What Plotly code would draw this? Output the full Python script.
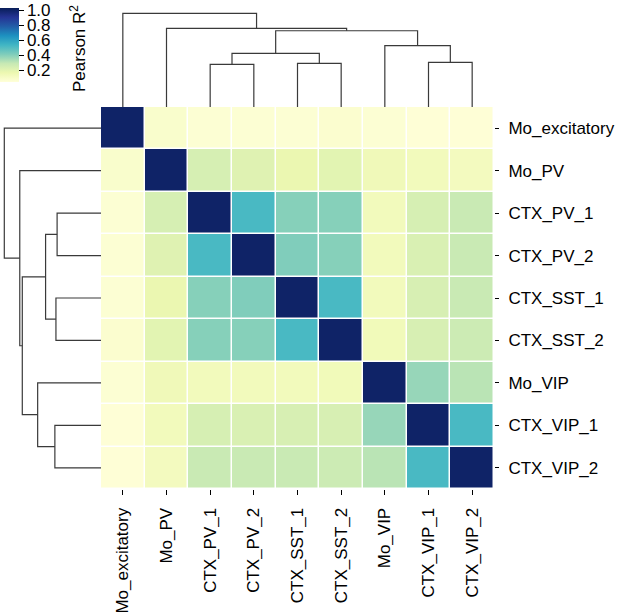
import plotly.graph_objects as go

labels = ["Mo_excitatory", "Mo_PV", "CTX_PV_1", "CTX_PV_2", "CTX_SST_1",
          "CTX_SST_2", "Mo_VIP", "CTX_VIP_1", "CTX_VIP_2"]

r2 = [
    [1.00, 0.08, 0.06, 0.06, 0.06, 0.07, 0.06, 0.05, 0.05],
    [0.08, 1.00, 0.24, 0.21, 0.17, 0.20, 0.14, 0.13, 0.12],
    [0.06, 0.24, 1.00, 0.52, 0.40, 0.40, 0.13, 0.24, 0.28],
    [0.06, 0.21, 0.52, 1.00, 0.41, 0.40, 0.13, 0.23, 0.28],
    [0.06, 0.17, 0.40, 0.41, 1.00, 0.52, 0.13, 0.235, 0.28],
    [0.07, 0.20, 0.40, 0.40, 0.52, 1.00, 0.135, 0.235, 0.27],
    [0.06, 0.14, 0.13, 0.13, 0.13, 0.135, 1.00, 0.37, 0.31],
    [0.05, 0.13, 0.24, 0.23, 0.235, 0.235, 0.37, 1.00, 0.52],
    [0.05, 0.12, 0.28, 0.28, 0.28, 0.27, 0.31, 0.52, 1.00],
]

# linkage: (child_a, child_b, height); leaves 0..8, clusters 9..
merges = [
    (2, 3, 0.454),
    (4, 5, 0.466),
    (7, 8, 0.477),
    (9, 10, 0.573),
    (6, 11, 0.655),
    (12, 13, 0.814),
    (1, 14, 0.840),
    (0, 15, 1.000),
]

cbar_ticks = [0.2, 0.4, 0.6, 0.8, 1.0]
cbar_title = "Pearson R<sup>2</sup>"

ylgnbu = [[0.0, "#ffffd9"], [0.125, "#edf8b1"], [0.25, "#c7e9b4"], [0.375, "#7fcdbb"],
          [0.5, "#41b6c4"], [0.625, "#1d91c0"], [0.75, "#225ea8"], [0.875, "#253494"],
          [1.0, "#081d58"]]

W, H = 617, 615
hx0, hx1 = 101, 494
hy0, hy1 = 107, 489
xdom = [hx0 / W, hx1 / W]
ydom = [1 - hy1 / H, 1 - hy0 / H]

# dendrogram segments
pos = {i: float(i) for i in range(len(labels))}
hgt = {i: 0.0 for i in range(len(labels))}
segs = []
for k, (a, b, h) in enumerate(merges):
    cid = len(labels) + k
    segs.append(([pos[a], pos[a], pos[b], pos[b]], [hgt[a], h, h, hgt[b]]))
    pos[cid] = (pos[a] + pos[b]) / 2
    hgt[cid] = h

fig = go.Figure()
fig.add_trace(go.Heatmap(
    z=r2, x=list(range(9)), y=list(range(9)),
    colorscale=ylgnbu, zmin=0.04, zmax=1.03, xgap=1.5, ygap=1.5,
    hoverinfo="skip",
    colorbar=dict(
        x=0, xanchor="left", xpad=0, y=1 - 8 / H, yanchor="top", ypad=0,
        thickness=19, len=74, lenmode="pixels", outlinewidth=0,
        ticks="outside", ticklen=5, tickcolor="black",
        tickvals=cbar_ticks, ticktext=[f"{t:.1f}" for t in cbar_ticks],
        tickfont=dict(size=17, color="black"),
    ),
))

lc = "#3a3a3a"
for xs, ys in segs:
    fig.add_trace(go.Scatter(x=xs, y=ys, mode="lines", xaxis="x2", yaxis="y2",
                             line=dict(color=lc, width=1.2), showlegend=False,
                             hoverinfo="skip"))
    fig.add_trace(go.Scatter(x=ys, y=xs, mode="lines", xaxis="x3", yaxis="y3",
                             line=dict(color=lc, width=1.2), showlegend=False,
                             hoverinfo="skip"))

fig.add_annotation(text=cbar_title, xref="paper", yref="paper",
                   x=78 / W, y=1 - 48 / H, xanchor="center", yanchor="middle",
                   textangle=-90, showarrow=False,
                   font=dict(size=17, color="black"))

font = dict(family="Liberation Sans, Arial, sans-serif", size=17, color="black")
fig.update_layout(
    width=W, height=H, margin=dict(l=0, r=0, t=0, b=0, autoexpand=False),
    paper_bgcolor="white", plot_bgcolor="white", font=font, showlegend=False,
    xaxis=dict(domain=xdom, range=[-0.5, 8.5], tickvals=list(range(9)), ticktext=labels,
               tickangle=-90, ticks="outside", ticklen=5, tickcolor="black",
               ticklabelstandoff=6, automargin=False,
               showgrid=False, zeroline=False, showline=False, fixedrange=True),
    yaxis=dict(domain=ydom, range=[8.5, -0.5], tickvals=list(range(9)), ticktext=labels,
               side="right", ticks="outside", ticklen=4, tickcolor="black",
               ticklabelstandoff=6, automargin=False,
               showgrid=False, zeroline=False, showline=False, fixedrange=True),
    xaxis2=dict(domain=xdom, range=[-0.5, 8.5], anchor="y2", visible=False),
    yaxis2=dict(domain=[ydom[1], 1 - 5 / H], range=[0, 102 / 93.7], anchor="x2",
                visible=False),
    xaxis3=dict(domain=[0, hx0 / W], range=[101 / 96.7, 0], anchor="y3", visible=False),
    yaxis3=dict(domain=ydom, range=[8.5, -0.5], anchor="x3", visible=False),
)

fig.write_html("out.html", config={"displayModeBar": False},
               post_script="document.body.style.margin='0';")
